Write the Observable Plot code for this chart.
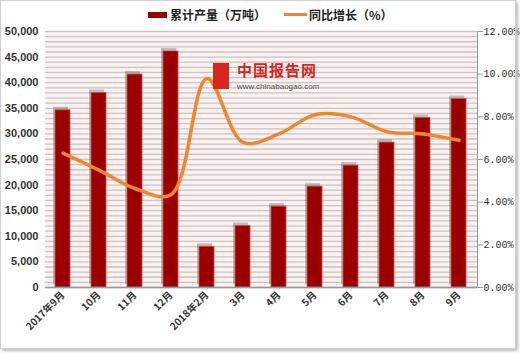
<!DOCTYPE html>
<html><head><meta charset="utf-8">
<script src="https://cdn.jsdelivr.net/npm/d3@7"></script>
<script src="https://cdn.jsdelivr.net/npm/@observablehq/plot@0.6"></script>
<style>
body{margin:0;background:#fff;}
#wrap{position:relative;width:520px;height:353px;overflow:hidden;background:#fff;}
#border{position:absolute;left:0;top:0;width:514px;height:347px;border:1px solid #cfcfcf;box-shadow:2px 2px 3px #bbb;pointer-events:none;}
#legend{position:absolute;top:6px;left:148px;font:bold 12px "Noto Sans CJK SC",sans-serif;color:#222;display:flex;align-items:center;}
.sw1{display:inline-block;width:19px;height:6px;background:#9b0000;margin-right:3px;}
.sw2{display:inline-block;width:23px;height:3px;background:#f0862e;margin-right:2px;margin-left:18px;}
#wm{position:absolute;left:213px;top:63px;}
#wm .ic{position:absolute;left:0;top:0;width:16px;height:26px;background:#d9261c;}
#wm .t1{position:absolute;left:24px;top:-2px;font:bold 15px/17px "Noto Sans CJK SC",sans-serif;color:#d9261c;white-space:nowrap;letter-spacing:1px;}
#wm .t2{position:absolute;left:24px;top:19px;font:8px/9px "Liberation Sans",sans-serif;color:#555;white-space:nowrap;}
</style></head>
<body>
<div id="wrap"><div id="chart"></div>
<div id="wm"><div class="ic"></div><div class="t1">中国报告网</div><div class="t2">www.chinabaogao.com</div></div>
<div id="legend"><span class="sw1"></span>累计产量（万吨）<span class="sw2"></span>同比增长（%）</div>
<div id="border"></div>
</div>
<script>
const months = ["2017年9月","10月","11月","12月","2018年2月","3月","4月","5月","6月","7月","8月","9月"];
const output = [34600,38000,41600,46100,7950,12000,15800,19700,23800,28300,33100,36800];
const growth = [6.3,5.5,4.64,4.35,9.8,6.8,7.2,8.1,8.0,7.3,7.2,6.9];
const leftTicks = d3.range(0, 50001, 5000);
const gridLines = d3.range(0, 50001, 1000);
const rightTicks = [0,2,4,6,8,10,12];
const k = 50000/12;
const data = months.map((m,i)=>({month:m, out:output[i], g:growth[i]}));

const chart = Plot.plot({
  width:520, height:353,
  marginTop:31, marginBottom:66, marginLeft:45, marginRight:43,
  style:{background:"transparent"},
  x:{domain:months, paddingInner:0.58, paddingOuter:0.29, label:null},
  y:{domain:[0,50000], label:null},
  marks:[
    Plot.frame({fill:"#fbf1f1", stroke:null}),
    Plot.ruleY(gridLines, {stroke:"#c9c4c4", strokeWidth:1.3}),
    Plot.barY(data, {x:"month", y:"out", fill:"#777", fillOpacity:0.45, dx:-2, dy:-3}),
    Plot.barY(data, {x:"month", y:"out", fill:"#9b0000", stroke:"#c05050", strokeWidth:0.8}),
    Plot.ruleY([0], {stroke:"#999", strokeWidth:1.5}),
    Plot.line(data, {x:"month", y:d=>d.g*k, curve:"catmull-rom", stroke:"#f0862e", strokeWidth:3.5}),
    Plot.axisY(leftTicks, {anchor:"left", tickSize:0, tickPadding:7, tickFormat:d3.format(","), fontSize:11, fontWeight:"bold", fill:"#333", fontFamily:"Liberation Sans"}),
    Plot.axisY(rightTicks.map(v=>v*k), {anchor:"right", tickSize:5, tickPadding:1, stroke:"#999", tickFormat:d=>(d/k).toFixed(2)+"%", fontSize:10, fill:"#333", fontFamily:"Liberation Mono"}),
    Plot.frame({anchor:"right", stroke:"#999"}),
    Plot.axisX({tickRotate:-45, tickSize:0, tickPadding:6, fontSize:10, fill:"#333", fontWeight:"bold", fontFamily:"Noto Sans CJK SC"})
  ]
});
document.getElementById("chart").appendChild(chart);
</script>
</body></html>
